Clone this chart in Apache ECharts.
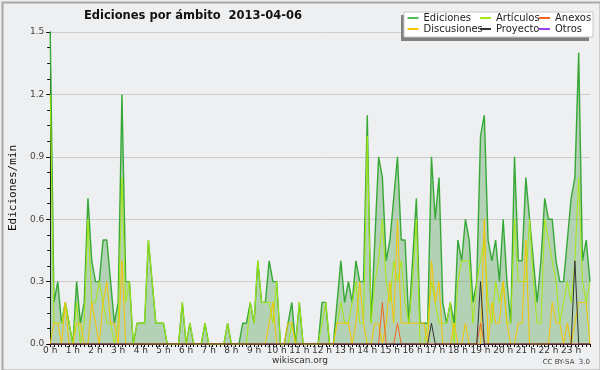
<!DOCTYPE html>
<html><head><meta charset="utf-8">
<script src="https://cdn.jsdelivr.net/npm/echarts@6/dist/echarts.min.js"></script>
<style>html,body{margin:0;padding:0;background:#eeeff1}#c{width:600px;height:370px}</style>
</head><body><div id="c"></div>
<script>
// Hour labels (x axis), data every 10 minutes (6 points per hour)
const hourLabels = ['0 h','1 h','2 h','3 h','4 h','5 h','6 h','7 h','8 h','9 h','10 h','11 h','12 h','13 h','14 h','15 h','16 h','17 h','18 h','19 h','20 h','21 h','22 h','23 h'];
const yTicks = [0, 0.3, 0.6, 0.9, 1.2, 1.5];

const ediciones = [
  1.5,0.2,0.3,0.1,0.2,0.1,  0,0.3,0.1,0.2,0.7,0.4,  0.3,0.3,0.5,0.5,0.3,0.1,  0.2,1.2,0.3,0.3,0,0.1,
  0.1,0.1,0.5,0.3,0.1,0.1,  0.1,0,0,0,0,0.2,  0,0.1,0,0,0,0.1,  0,0,0,0,0,0.1,
  0,0,0,0.1,0.1,0.2,  0.1,0.4,0.2,0.2,0.4,0.3,  0.3,0,0,0.1,0.2,0,  0.2,0,0,0,0,0,
  0.2,0.2,0,0,0.2,0.4,  0.2,0.3,0.2,0.4,0.3,0.3,  1.1,0.1,0.5,0.9,0.8,0.4,  0.5,0.7,0.9,0.5,0.5,0.1,
  0.4,0.7,0.1,0.1,0.1,0.9,  0.6,0.8,0.2,0.1,0.2,0.1,  0.5,0.4,0.6,0.5,0.2,0.3,  1.0,1.1,0.5,0.4,0.5,0.3,
  0.6,0.3,0.1,0.9,0.4,0.4,  0.8,0.6,0.4,0.2,0.4,0.7,  0.6,0.6,0.4,0.3,0.3,0.5,  0.7,0.8,1.4,0.4,0.5,0.3
];
const articulos = [
  1.2,0.1,0.1,0.1,0.2,0.1,  0,0.2,0,0.1,0.6,0.2,  0.2,0.3,0.2,0.1,0.1,0,  0.1,0.8,0.2,0.3,0,0.1,
  0.1,0.1,0.5,0.3,0.1,0.1,  0.1,0,0,0,0,0.2,  0,0.1,0,0,0,0.1,  0,0,0,0,0,0.1,
  0,0,0,0,0,0.2,  0.1,0.4,0.2,0.2,0.2,0.1,  0.3,0,0,0,0.1,0,  0.2,0,0,0,0,0,
  0.1,0.2,0,0,0.1,0.2,  0.1,0.1,0.2,0.3,0.1,0.1,  1.0,0.1,0.3,0.4,0.6,0.3,  0.2,0.4,0.3,0.4,0.2,0.1,
  0.3,0.6,0,0,0.1,0.3,  0.2,0.1,0.1,0.1,0.2,0,  0.3,0.4,0.4,0.4,0.1,0.3,  0.4,0.5,0.2,0.1,0.3,0.2,
  0.3,0.1,0.1,0.6,0.3,0.3,  0.3,0.6,0.3,0.1,0.1,0.6,  0.5,0.4,0.3,0.1,0.2,0.3,  0.2,0.4,0.8,0.3,0.2,0.3
];
const discusiones = [
  0,0.1,0.1,0,0.2,0,  0,0.1,0.1,0,0,0.2,  0.1,0,0.2,0.3,0.1,0.1,  0,0.4,0,0,0,0,
  0,0,0,0,0,0,  0,0,0,0,0,0,  0,0,0,0,0,0,  0,0,0,0,0,0,
  0,0,0,0,0,0,  0,0,0,0,0.1,0.2,  0,0,0,0.1,0.1,0,  0,0,0,0,0,0,
  0,0,0,0,0.1,0.1,  0.1,0.1,0,0.1,0.3,0.1,  0,0,0.1,0.1,0,0.1,  0.3,0.1,0.6,0.1,0.1,0.1,
  0.1,0.1,0.1,0.1,0,0.4,  0.2,0.3,0,0,0,0.1,  0,0,0.1,0,0,0,  0,0.6,0,0.2,0.1,0.1,
  0.3,0.1,0,0,0.1,0.1,  0.5,0,0,0,0,0,  0,0.2,0.1,0.1,0,0.1,  0,0.1,0.2,0.2,0.2,0
];
const anexos = [
  0,0,0,0,0,0,  0,0,0,0,0,0,  0,0,0,0,0,0,  0,0,0,0,0,0,
  0,0,0,0,0,0,  0,0,0,0,0,0,  0,0,0,0,0,0,  0,0,0,0,0,0,
  0,0,0,0,0,0,  0,0,0,0,0,0,  0,0,0,0,0,0,  0,0,0,0,0,0,
  0,0,0,0,0,0,  0,0,0,0,0,0,  0,0,0,0,0.2,0,  0,0,0.1,0,0,0,
  0,0,0,0,0,0,  0,0,0,0,0,0,  0,0,0,0,0,0,  0.1,0,0,0,0,0,
  0,0,0,0,0,0,  0,0,0,0,0,0,  0,0,0,0,0,0,  0,0,0,0,0,0
];
const proyecto = [
  0,0,0,0,0,0,  0,0,0,0,0,0,  0,0,0,0,0,0,  0,0,0,0,0,0,
  0,0,0,0,0,0,  0,0,0,0,0,0,  0,0,0,0,0,0,  0,0,0,0,0,0,
  0,0,0,0,0,0,  0,0,0,0,0,0,  0,0,0,0,0,0,  0,0,0,0,0,0,
  0,0,0,0,0,0,  0,0,0,0,0,0,  0,0,0,0,0,0,  0,0,0,0,0,0,
  0,0,0,0,0,0.1,  0,0,0,0,0,0,  0,0,0,0,0,0,  0.3,0,0,0,0,0,
  0,0,0,0,0,0,  0,0,0,0,0,0,  0,0,0,0,0,0,  0,0.4,0,0,0,0
];
const otros = [
  0,0,0,0,0,0,  0,0,0,0,0,0,  0,0,0,0,0,0,  0,0,0,0,0,0,
  0,0,0,0,0,0,  0,0,0,0,0,0,  0,0,0,0,0,0,  0,0,0,0,0,0,
  0,0,0,0,0,0,  0,0,0,0,0,0,  0,0,0,0,0,0,  0,0,0,0,0,0,
  0,0,0,0,0,0,  0,0,0,0,0,0,  0,0,0,0,0,0,  0,0,0,0,0,0,
  0,0,0,0,0,0,  0,0,0,0,0,0,  0,0,0,0,0,0,  0,0,0,0,0,0,
  0,0,0,0,0,0,  0,0,0,0,0,0,  0,0,0,0,0,0,  0,0,0,0,0,0
];

const categories = [];
for (let h = 0; h < 24; h++) for (let m = 0; m < 6; m++) categories.push(h + ':' + m + '0');

const FONT = 'DejaVu Sans';
const chart = echarts.init(document.getElementById('c'), null, {renderer: 'canvas'});

function lineSeries(name, data, color, z) {
  return {name, type: 'line', data, symbol: 'none', z: z,
    lineStyle: {color, width: 1}, itemStyle: {color}, emphasis: {disabled: true}, animation: false};
}
const legendCommon = {orient: 'vertical', top: 12.5, padding: 0, itemGap: 0, itemWidth: 11, itemHeight: 2,
  icon: 'rect', selectedMode: false, textStyle: {fontFamily: FONT, fontSize: 10, color: '#222', lineHeight: 11}};

chart.setOption({
  backgroundColor: '#eeeff1',
  animation: false,
  title: {text: 'Ediciones por ámbito  2013-04-06', left: 188, top: 5, textAlign: 'center',
    textStyle: {fontFamily: FONT, fontWeight: 'bold', fontSize: 11.5, color: '#111'}},
  legend: [
    Object.assign({left: 407.5, data: ['Ediciones', 'Discusiones']}, legendCommon),
    Object.assign({left: 480, data: ['Artículos', 'Proyecto']}, legendCommon),
    Object.assign({left: 539, data: ['Anexos', 'Otros']}, legendCommon)
  ],
  grid: {left: 46.5, right: 10, top: 32, bottom: 26, containLabel: false},
  xAxis: {
    type: 'category', data: categories, boundaryGap: false,
    axisLine: {lineStyle: {color: '#000', width: 1}},
    axisTick: {interval: 0, length: 3, lineStyle: {color: '#000'}},
    axisLabel: {interval: 5, margin: 2, fontFamily: FONT, fontSize: 9, color: '#333',
      formatter: (v, i) => hourLabels[Math.floor(i / 6)]},
    splitLine: {show: false}
  },
  yAxis: {
    type: 'value', min: yTicks[0], max: yTicks[yTicks.length - 1], interval: 0.3,
    name: 'Ediciones/min', nameLocation: 'middle', nameGap: 31,
    nameTextStyle: {fontFamily: 'DejaVu Sans Mono', fontSize: 11, color: '#111'},
    axisLine: {show: true, lineStyle: {color: '#000', width: 1}},
    axisTick: {show: true, length: 4, lineStyle: {color: '#000'}},
    minorTick: {show: true, splitNumber: 4, length: 3, lineStyle: {color: '#000'}},
    axisLabel: {margin: 6, fontFamily: FONT, fontSize: 9, color: '#444', formatter: v => v.toFixed(1)},
    splitLine: {show: true, lineStyle: {color: '#cccccc', width: 1}}
  },
  graphic: [
    {type: 'rect', left: 0, top: 0, z: 100, silent: true,
      shape: {x: 1, y: 1, width: 598, height: 368}, style: {fill: null, stroke: '#a8a8a8', lineWidth: 2}},
    {type: 'rect', z: 1, silent: true, shape: {x: 401, y: 15, width: 188, height: 26}, style: {fill: '#808080'}},
    {type: 'rect', z: 2, silent: true, shape: {x: 404, y: 12, width: 189, height: 25}, style: {fill: '#ffffff', stroke: '#c8c8c8', lineWidth: 1}},
    {type: 'text', z: 5, silent: true, style: {x: 300, y: 361, text: 'wikiscan.org', align: 'center', verticalAlign: 'middle',
      font: '9px "DejaVu Sans"', fill: '#333'}},
    {type: 'text', z: 5, silent: true, style: {x: 590, y: 362, text: 'CC BY-SA  3.0', align: 'right', verticalAlign: 'middle',
      font: '7px "DejaVu Sans"', fill: '#444'}}
  ],
  series: [
    {name: 'Ediciones', type: 'line', data: ediciones, symbol: 'none', z: 2,
      lineStyle: {color: '#36a836', width: 1.4}, itemStyle: {color: '#55bb55'},
      areaStyle: {color: 'rgba(70,160,70,0.5)', origin: 'start'}, emphasis: {disabled: true}},
    lineSeries('Artículos', articulos, '#a6e812', 3),
    lineSeries('Anexos', anexos, '#f26522', 5),
    lineSeries('Discusiones', discusiones, '#f5c400', 4),
    lineSeries('Proyecto', proyecto, '#333333', 6),
    lineSeries('Otros', otros, '#9b3ff0', 1)
  ]
});
</script></body></html>
